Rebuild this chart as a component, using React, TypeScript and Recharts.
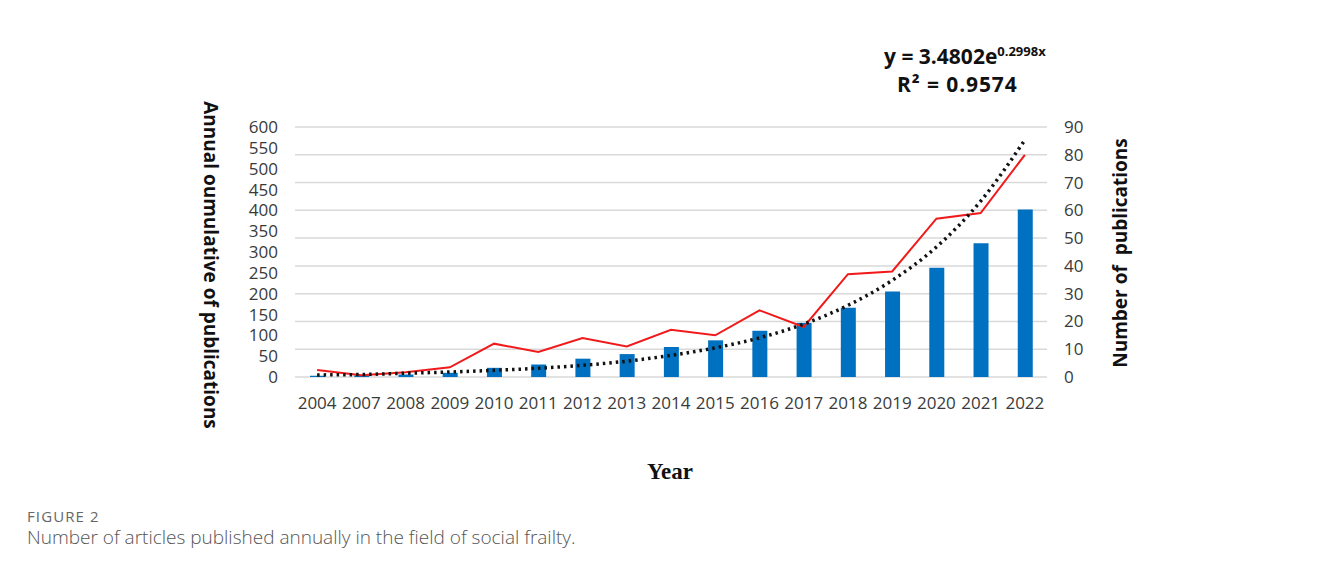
import React from 'react';
import {
  ComposedChart,
  Bar,
  Line,
  XAxis,
  YAxis,
  CartesianGrid,
} from 'recharts';

// Años (el 2005 y 2006 no aparecen en la figura original)
const years = [
  '2004', '2007', '2008', '2009', '2010', '2011', '2012', '2013', '2014',
  '2015', '2016', '2017', '2018', '2019', '2020', '2021', '2022',
];

// Barras: acumulado anual (eje izquierdo)
const cumulative = [3, 4, 6, 10, 22, 30, 44, 55, 72, 88, 111, 130, 166, 205, 262, 321, 402];

// Línea roja: publicaciones por año (eje derecho)
const annual = [2.5, 0.6, 1.7, 3.5, 12, 9, 14, 11, 17, 15, 24, 18, 37, 38, 57, 59, 80];

// Línea punteada: tendencia exponencial (eje izquierdo)
const trend = [5, 6, 9, 12, 16, 21, 28, 38, 52, 70, 94, 127, 172, 232, 312, 422, 569];

const leftTicks = [0, 50, 100, 150, 200, 250, 300, 350, 400, 450, 500, 550, 600];
const rightTicks = [0, 10, 20, 30, 40, 50, 60, 70, 80, 90];

const data = years.map((year, i) => ({
  year,
  cumulative: cumulative[i],
  annual: annual[i],
  trend: trend[i],
}));

const tickStyle = { fontFamily: 'Open Sans', fontSize: 17, fill: '#3a3a3a' };
const frameColor = '#9e9e9e';

const App: React.FC = () => {
  return (
    <div
      style={{
        position: 'relative',
        width: 1328,
        height: 575,
        margin: -8,
        background: '#fff',
      }}
    >
      <ComposedChart
        width={1328}
        height={575}
        data={data}
        margin={{ top: 127, left: 235, right: 221, bottom: 168 }}
        style={{ position: 'absolute', left: 0, top: 0 }}
      >
        <CartesianGrid vertical={false} yAxisId="right" stroke="#d9d9d9" strokeWidth={1.5} />
        <XAxis
          dataKey="year"
          height={30}
          axisLine={false}
          tickLine={false}
          tickSize={0}
          tickMargin={20}
          interval={0}
          tick={tickStyle}
        />
        <YAxis
          yAxisId="left"
          width={60}
          domain={[0, 600]}
          ticks={leftTicks}
          interval={0}
          axisLine={false}
          tickLine={false}
          tickSize={0}
          tickMargin={17}
          tick={tickStyle}
        />
        <YAxis
          yAxisId="right"
          orientation="right"
          width={60}
          domain={[0, 90]}
          ticks={rightTicks}
          interval={0}
          axisLine={false}
          tickLine={false}
          tickSize={0}
          tickMargin={17}
          tick={{ ...tickStyle, textAnchor: 'start' }}
        />
        <Bar
          yAxisId="left"
          dataKey="cumulative"
          fill="#0070c0"
          barSize={15}
          isAnimationActive={false}
        />
        <Line
          yAxisId="right"
          type="linear"
          dataKey="annual"
          stroke="#f01a1a"
          strokeWidth={2}
          dot={false}
          isAnimationActive={false}
        />
        <Line
          yAxisId="left"
          type="monotone"
          dataKey="trend"
          stroke="#111"
          strokeWidth={3.5}
          strokeDasharray="2.5 4"
          dot={false}
          isAnimationActive={false}
        />
      </ComposedChart>

      {/* marco gris: arriba, izquierda, derecha */}
      <svg
        width={1328}
        height={575}
        style={{ position: 'absolute', left: 0, top: 0, zIndex: 10, pointerEvents: 'none' }}
      >
        <path d="M4 575 V5 H1326 V575" fill="none" stroke={frameColor} strokeWidth={2} />
      </svg>

      {/* título eje izquierdo */}
      <div
        style={{
          position: 'absolute',
          left: 211,
          top: 265,
          transform: 'translate(-50%, -50%) rotate(90deg)',
          whiteSpace: 'nowrap',
          fontFamily: 'Open Sans',
          fontWeight: 700,
          fontSize: 19,
          color: '#111',
        }}
      >
        Annual oumulative of publications
      </div>

      {/* título eje derecho */}
      <div
        style={{
          position: 'absolute',
          left: 1120,
          top: 253,
          transform: 'translate(-50%, -50%) rotate(-90deg)',
          whiteSpace: 'pre',
          fontFamily: 'Open Sans',
          fontWeight: 700,
          fontSize: 19,
          color: '#111',
        }}
      >
        {'Number of  publications'}
      </div>

      {/* ecuación de la tendencia */}
      <div
        style={{
          position: 'absolute',
          left: 884,
          top: 42,
          height: 28,
          fontFamily: 'Open Sans',
          fontWeight: 700,
          fontSize: 21,
          color: '#111',
          lineHeight: '28px',
          whiteSpace: 'nowrap',
        }}
      >
        y = 3.4802e
        <span style={{ fontSize: 13, verticalAlign: 'top', lineHeight: '18px' }}>0.2998x</span>
      </div>
      <div
        style={{
          position: 'absolute',
          left: 897,
          top: 70,
          height: 28,
          fontFamily: 'Open Sans',
          fontWeight: 700,
          fontSize: 21,
          letterSpacing: 0.9,
          color: '#111',
          lineHeight: '28px',
          whiteSpace: 'nowrap',
        }}
      >
        R² = 0.9574
      </div>

      {/* título eje X */}
      <div
        style={{
          position: 'absolute',
          left: 670,
          top: 459,
          transform: 'translateX(-50%)',
          fontFamily: 'Liberation Serif',
          fontWeight: 700,
          fontSize: 23,
          color: '#111',
        }}
      >
        Year
      </div>

      {/* pie de figura */}
      <div
        style={{
          position: 'absolute',
          left: 27,
          top: 506,
          fontFamily: 'Open Sans',
          fontSize: 15,
          letterSpacing: 1.1,
          color: '#666',
        }}
      >
        FIGURE 2
      </div>
      <div
        style={{
          position: 'absolute',
          left: 27,
          top: 524,
          fontFamily: 'Open Sans',
          fontWeight: 300,
          fontSize: 19,
          color: '#555',
          whiteSpace: 'nowrap',
        }}
      >
        Number of articles published annually in the field of social frailty.
      </div>
    </div>
  );
};

export default App;
